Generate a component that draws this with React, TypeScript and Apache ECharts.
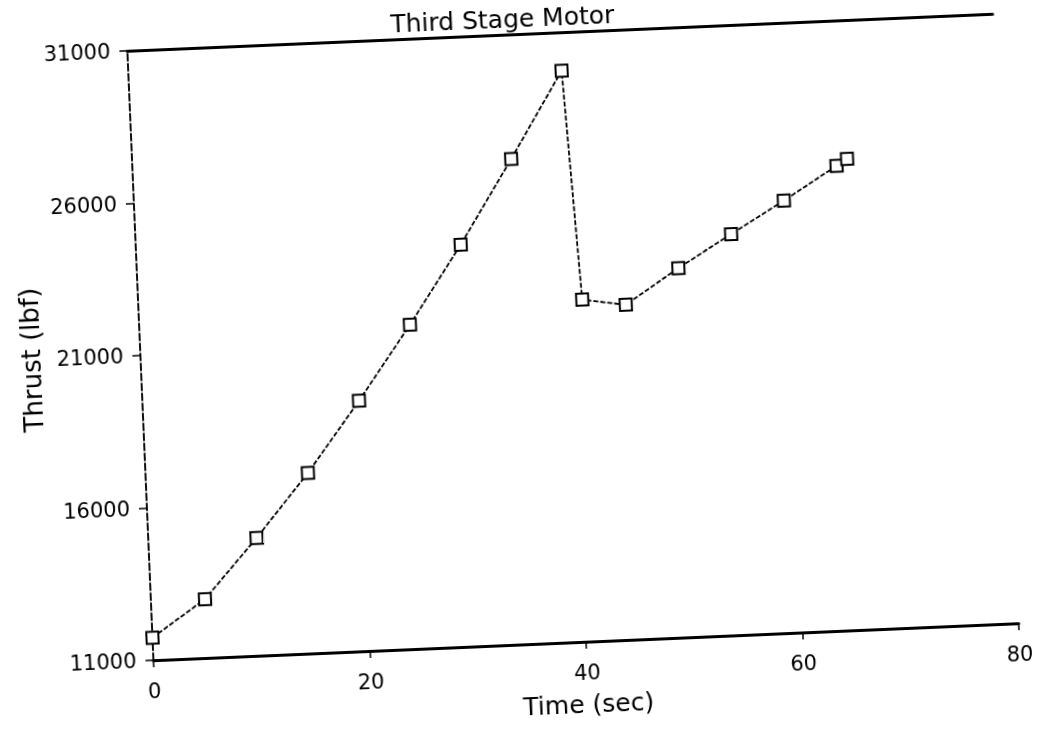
import React, { useEffect, useRef } from 'react';
import * as echarts from 'echarts';

const timeSec = [0, 5, 10, 15, 20, 25, 30, 35, 40, 41, 45, 50, 55, 60, 65, 66];
const thrustLbf = [11740, 12930, 14860, 16920, 19210, 21630, 24180, 26920, 29740, 22210, 21980, 23110, 24150, 25170, 26240, 26450];
const yTicks = [11000, 16000, 21000, 26000, 31000];
const xTicks = [0, 20, 40, 60, 80];

const FONT = 'DejaVu Sans';

export default function App() {
  const ref = useRef<HTMLDivElement>(null);
  useEffect(() => {
    const chart = echarts.init(ref.current!, null, { renderer: 'svg' });
    const data = timeSec.map((t, i) => [t, thrustLbf[i]]);
    chart.setOption({
      animation: false,
      backgroundColor: 'transparent',
      graphic: [
        {
          type: 'text',
          x: 516,
          y: 16,
          style: {
            text: 'Third Stage Motor',
            font: `25px "${FONT}"`,
            fill: '#000',
            align: 'center',
            verticalAlign: 'middle',
          },
        },
      ],
      grid: { left: 140, top: 32, width: 866, height: 610, containLabel: false },
      xAxis: [
        {
          type: 'value',
          min: 0,
          max: 80,
          interval: 20,
          name: 'Time (sec)',
          nameLocation: 'middle',
          nameGap: 50,
          nameTextStyle: { fontFamily: FONT, fontSize: 25, color: '#000' },
          axisLine: { show: true, lineStyle: { color: '#000', width: 3 } },
          axisTick: { show: true, customValues: xTicks, inside: false, length: 7, lineStyle: { color: '#000', width: 1.5 } },
          axisLabel: { customValues: xTicks, margin: 20, fontFamily: FONT, fontSize: 21, color: '#000', formatter: (v: number) => String(v) },
          splitLine: { show: false },
        },
        {
          type: 'value',
          position: 'top',
          min: 0,
          max: 80,
          interval: 20,
          axisLine: { show: true, lineStyle: { color: '#000', width: 3 } },
          axisTick: { show: false },
          axisLabel: { show: false },
          splitLine: { show: false },
        },
      ],
      yAxis: [
        {
          type: 'value',
          min: 11000,
          max: 31000,
          name: 'Thrust (lbf)',
          nameLocation: 'middle',
          nameGap: 96,
          nameRotate: 90,
          nameTextStyle: { fontFamily: FONT, fontSize: 26, color: '#000' },
          axisLine: { show: true, lineStyle: { color: '#000', width: 1.5, type: [7, 3] } },
          axisTick: { show: true, customValues: yTicks, length: 8, lineStyle: { color: '#000', width: 1.5 } },
          axisLabel: { customValues: yTicks, margin: 17, fontFamily: FONT, fontSize: 21, color: '#000', formatter: (v: number) => String(v) },
          splitLine: { show: false },
        },
        {
          type: 'value',
          position: 'right',
          min: 11000,
          max: 31000,
          axisLine: { show: true, lineStyle: { color: '#000', width: 1.5, type: [7, 3] } },
          axisTick: { show: false },
          axisLabel: { show: false },
          splitLine: { show: false },
        },
      ],
      series: [
        {
          type: 'line',
          xAxisIndex: 0,
          yAxisIndex: 0,
          data,
          symbol: 'rect',
          symbolSize: 12,
          showSymbol: true,
          lineStyle: { color: '#000', width: 1.8, type: [5, 2] },
          itemStyle: { color: '#fff', borderColor: '#000', borderWidth: 2 },
          z: 3,
        },
      ],
    });
    return () => chart.dispose();
  }, []);
  return (
    <div
      ref={ref}
      style={{
        position: 'fixed',
        left: 0,
        top: 0,
        width: 1042,
        height: 740,
        transform: 'rotate(-2.45deg)',
        transformOrigin: '573px 337px',
      }}
    />
  );
}
